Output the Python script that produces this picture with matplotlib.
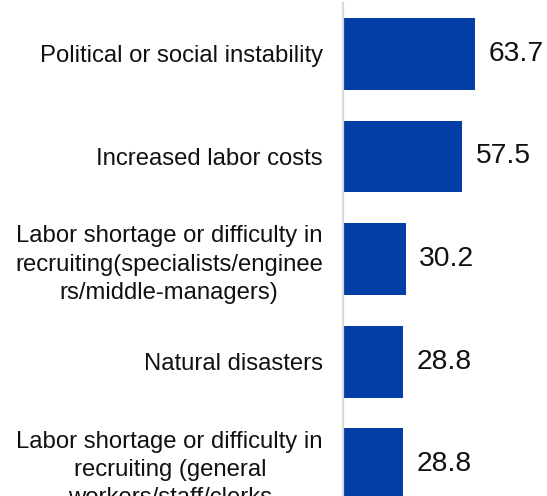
import matplotlib.pyplot as plt

plt.rcParams['font.family'] = ['Liberation Sans', 'DejaVu Sans']

categories = [
    "Political or social instability",
    "Increased labor costs",
    "Labor shortage or difficulty in\nrecruiting(specialists/enginee\nrs/middle-managers)",
    "Natural disasters",
    "Labor shortage or difficulty in\nrecruiting (general\nworkers/staff/clerks",
]
values = [63.7, 57.5, 30.2, 28.8, 28.8]

fig = plt.figure(figsize=(5.47, 4.96), dpi=100)
ax = fig.add_axes([343 / 547, 0, 1 - 343 / 547, 493 / 496])

pos = list(range(len(values)))
ax.barh(pos, values, height=0.70, color='#023ea5', left=0)

for p, v in zip(pos, values):
    ax.annotate(f"{v:.1f}", xy=(v, p), xytext=(9.8, 0), textcoords='offset points',
                ha='left', va='center', fontsize=20.3, color='#111111')

ax.set_xlim(0, 98.5)
ax.set_ylim(4.31, -0.525 + 3 / 102)

ax.set_yticks(pos)
ax.set_yticklabels(categories, fontsize=17.2, color='#111111',
                   multialignment='center', linespacing=1.36)
ax.tick_params(axis='y', length=0, pad=14.4)
ax.set_xticks([])

for s in ['top', 'right', 'bottom']:
    ax.spines[s].set_visible(False)
ax.spines['left'].set_color('#d9d9d9')
ax.spines['left'].set_linewidth(1.6)

fig.savefig('out.png', dpi=100)
